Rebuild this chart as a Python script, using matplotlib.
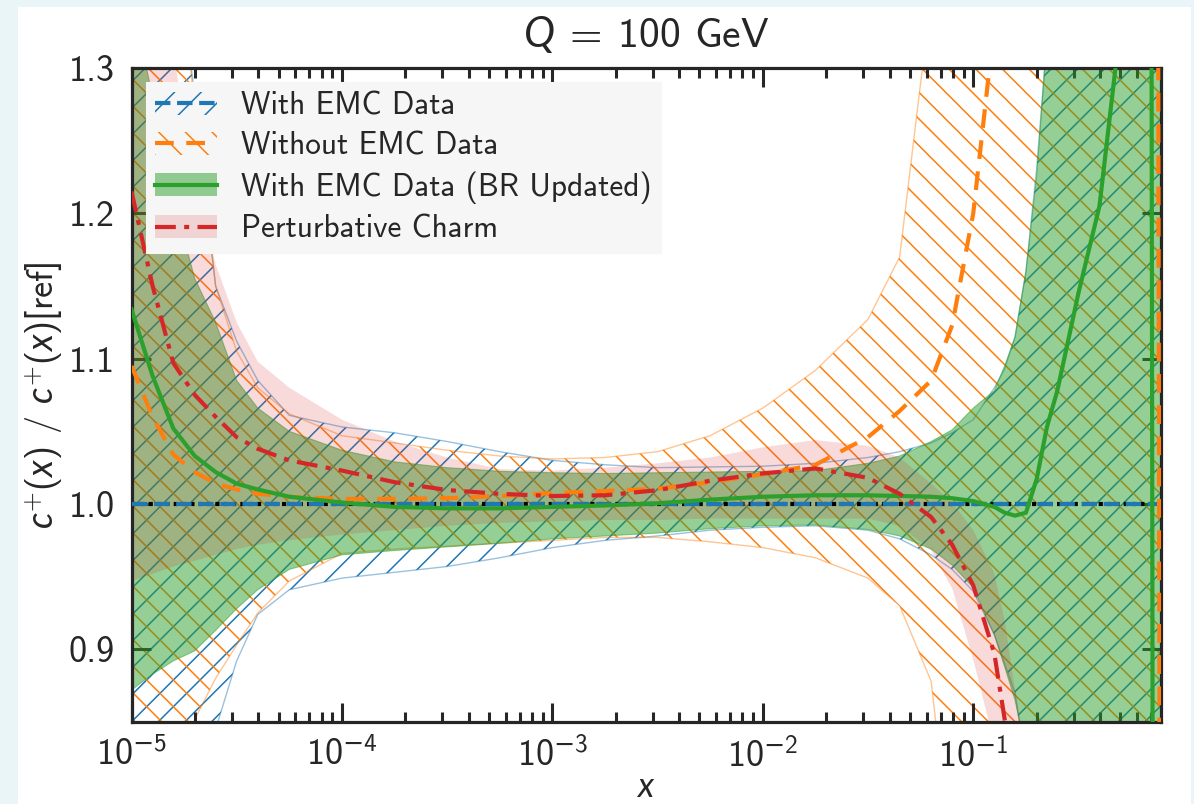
import math
import matplotlib
matplotlib.use("Agg")
import matplotlib.pyplot as plt
from matplotlib.patches import Patch, Rectangle
from matplotlib.lines import Line2D
from matplotlib.ticker import (MultipleLocator, FormatStrFormatter, LogLocator,
                               FuncFormatter)

DPI = 80
S = 100 / DPI  # sizes below are written for 100 dpi and rescaled

plt.rcParams["font.family"] = ["cmss10", "DejaVu Sans"]
plt.rcParams["mathtext.fontset"] = "custom"
plt.rcParams["mathtext.rm"] = "cmss10"
plt.rcParams["mathtext.it"] = "Lato:italic"
plt.rcParams["mathtext.bf"] = "cmss10"
plt.rcParams["mathtext.sf"] = "DejaVu Sans"
plt.rcParams["hatch.linewidth"] = 1.1 * S

# x grid shared by every curve
x = [1.0e-5, 1.26e-5, 1.58e-5, 2.0e-5, 2.51e-5, 3.16e-5, 3.98e-5, 5.62e-5,
     1.0e-4, 1.78e-4, 3.16e-4, 5.62e-4, 1.0e-3, 1.78e-3, 3.16e-3, 5.62e-3,
     1.0e-2, 1.78e-2, 3.16e-2, 4.47e-2, 6.31e-2, 7.94e-2, 0.100, 0.126,
     0.141, 0.158, 0.178, 0.200, 0.224, 0.251, 0.316, 0.398, 0.501, 0.631,
     0.692, 0.716, 0.741, 0.776]

# With EMC Data (reference fit)
emc_c = [1.0] * len(x)
emc_lo = [0.55, 0.64, 0.72, 0.785, 0.845, 0.892, 0.924, 0.941,
          0.949, 0.953, 0.957, 0.963, 0.970, 0.975, 0.978, 0.982,
          0.984, 0.985, 0.982, 0.976, 0.965, 0.955, 0.94, 0.91,
          0.89, 0.87, 0.82, 0.75, 0.65, 0.55, 0.45, 0.4, 0.4, 0.4,
          0.4, 0.4, 0.4, 0.4]
emc_hi = [1.9, 1.6, 1.40, 1.28, 1.15, 1.112, 1.085, 1.061,
          1.053, 1.049, 1.043, 1.036, 1.030, 1.027, 1.025, 1.0255,
          1.026, 1.028, 1.032, 1.036, 1.042, 1.049, 1.058, 1.08,
          1.093, 1.115, 1.16, 1.23, 1.32, 1.42, 1.7, 2.0, 2.0, 2.0,
          2.0, 2.0, 2.0, 2.0]

# Without EMC Data
noemc_c = [1.095, 1.06, 1.034, 1.022, 1.014, 1.010, 1.007, 1.005,
           1.0035, 1.0035, 1.004, 1.0055, 1.0075, 1.009, 1.0105, 1.015,
           1.0205, 1.027, 1.046, 1.064, 1.085, 1.123, 1.20, 1.33,
           1.45, 1.6, 1.8, 2.0, 2.0, 2.0, 2.0, 2.0, 2.0, 2.0,
           2.0, 2.0, 2.0, 0.5]
noemc_lo = [0.5, 0.6, 0.72, 0.852, 0.88, 0.903, 0.925, 0.947,
            0.966, 0.969, 0.971, 0.973, 0.975, 0.977, 0.977, 0.974,
            0.970, 0.963, 0.949, 0.93, 0.878, 0.75, 0.6, 0.5,
            0.5, 0.5, 0.5, 0.5, 0.5, 0.5, 0.5, 0.5, 0.5, 0.5,
            0.5, 0.5, 0.5, 0.5]
noemc_hi = [2.0, 1.65, 1.42, 1.27, 1.15, 1.105, 1.08, 1.062,
            1.047, 1.042, 1.037, 1.033, 1.031, 1.032, 1.036, 1.047,
            1.066, 1.092, 1.127, 1.17, 1.35, 1.6, 2.0, 2.0,
            2.0, 2.0, 2.0, 2.0, 2.0, 2.0, 2.0, 2.0, 2.0, 2.0,
            2.0, 2.0, 2.0, 2.0]

# With EMC Data (BR Updated)
br_c = [1.134, 1.088, 1.052, 1.033, 1.022, 1.014, 1.010, 1.005,
        1.001, 0.998, 0.997, 0.997, 0.998, 0.999, 1.0005, 1.003,
        1.005, 1.006, 1.006, 1.0055, 1.005, 1.004, 1.002, 0.998,
        0.994, 0.992, 0.994, 1.017, 1.053, 1.078, 1.145, 1.205, 1.33, 1.6,
        2.0, 0.6, 0.5, 0.5]
br_lo = [0.872, 0.883, 0.892, 0.899, 0.913, 0.928, 0.941, 0.955,
         0.965, 0.968, 0.9705, 0.973, 0.976, 0.978, 0.980, 0.983,
         0.985, 0.9856, 0.9825, 0.978, 0.969, 0.958, 0.9425, 0.91,
         0.888, 0.865, 0.83, 0.75, 0.65, 0.55, 0.45, 0.4, 0.4, 0.4,
         0.4, 0.4, 0.4, 0.4]
br_hi = [1.35, 1.28, 1.21, 1.155, 1.125, 1.085, 1.066, 1.05,
         1.037, 1.029, 1.025, 1.0225, 1.0215, 1.021, 1.0215, 1.022,
         1.0225, 1.023, 1.028, 1.033, 1.043, 1.051, 1.066, 1.078,
         1.095, 1.115, 1.16, 1.225, 1.32, 1.42, 1.7, 2.0, 2.0, 2.0,
         2.0, 2.0, 2.0, 2.0]

# Perturbative Charm
pch_c = [1.215, 1.15, 1.097, 1.075, 1.06, 1.046, 1.038, 1.030,
         1.023, 1.015, 1.0096, 1.007, 1.0055, 1.006, 1.0095, 1.016,
         1.021, 1.0245, 1.018, 1.007, 0.991, 0.972, 0.944, 0.897,
         0.852, 0.81, 0.76, 0.70, 0.65, 0.6, 0.6, 0.6, 0.6, 0.6,
         0.6, 0.6, 0.6, 0.6]
pch_lo = [0.947, 0.952, 0.957, 0.961, 0.965, 0.969, 0.972, 0.975,
          0.979, 0.982, 0.985, 0.987, 0.988, 0.989, 0.989, 0.990,
          0.990, 0.990, 0.990, 0.985, 0.968, 0.942, 0.893, 0.835,
          0.80, 0.75, 0.70, 0.65, 0.6, 0.55, 0.5, 0.5, 0.5, 0.5,
          0.5, 0.5, 0.5, 0.5]
pch_hi = [1.55, 1.42, 1.31, 1.225, 1.165, 1.125, 1.098, 1.08,
          1.058, 1.043, 1.032, 1.024, 1.023, 1.025, 1.028, 1.032,
          1.039, 1.044, 1.040, 1.032, 1.014, 1.001, 0.982, 0.952,
          0.92, 0.872, 0.83, 0.78, 0.72, 0.65, 0.6, 0.6, 0.6, 0.6,
          0.6, 0.6, 0.6, 0.6]

labels = ["With EMC Data", "Without EMC Data",
          "With EMC Data (BR Updated)", "Perturbative Charm"]

C_BLUE, C_ORANGE, C_GREEN, C_RED = "#1f77b4", "#ff7f0e", "#2ca02c", "#d62728"
INK = "#262626"
LW = 3 * S
RED_DASH = (5, 2, 1.2, 2)
ORANGE_DASH = (4.5, 3)


def decade_label(v, pos):
    e = int(round(math.log10(v)))
    if e < 0:
        return r"$10^{\mathsf{-}%d}$" % (-e)
    return r"$10^{%d}$" % e


fig = plt.figure(figsize=(1194 / DPI, 804 / DPI), dpi=DPI)
fig.patch.set_facecolor("#eaf5f7")
fig.add_artist(Rectangle((18 / 1194, 0), 1173 / 1194, 797 / 804,
                         transform=fig.transFigure, facecolor="white",
                         edgecolor="none", zorder=0))
ax = fig.add_axes([131.5 / 1194, 82 / 804, 1029 / 1194, 654 / 804])

# uncertainty bands
ax.fill_between(x, emc_lo, emc_hi, facecolor="none", edgecolor=C_BLUE,
                hatch="/", linewidth=0, zorder=1)
ax.fill_between(x, noemc_lo, noemc_hi, facecolor="none", edgecolor=C_ORANGE,
                hatch="\\", linewidth=0, zorder=1)
for lo, hi, c in [(emc_lo, emc_hi, C_BLUE), (noemc_lo, noemc_hi, C_ORANGE)]:
    ax.plot(x, lo, color=c, lw=1.0 * S, alpha=0.45, zorder=1.5)
    ax.plot(x, hi, color=c, lw=1.0 * S, alpha=0.45, zorder=1.5)
ax.fill_between(x, br_lo, br_hi, color=C_GREEN, alpha=0.5,
                linewidth=0.8 * S, zorder=2)
ax.fill_between(x, pch_lo, pch_hi, color=C_RED, alpha=0.17, linewidth=0,
                zorder=2.5)

# central values
ax.axhline(1.0, color="black", lw=LW, ls=(0, (1, 1)), zorder=3)
ax.plot(x, emc_c, color=C_BLUE, lw=LW, ls="--", zorder=3.2)
ax.plot(x, noemc_c, color=C_ORANGE, lw=LW, dashes=ORANGE_DASH, zorder=3.4)
ax.plot(x, br_c, color=C_GREEN, lw=LW, zorder=3.6)
ax.plot(x, pch_c, color=C_RED, lw=LW, dashes=RED_DASH, zorder=3.8)

ax.set_xscale("log")
ax.set_xlim(1e-5, 0.776)
ax.set_ylim(0.85, 1.3)
ax.yaxis.set_major_locator(MultipleLocator(0.1))
ax.yaxis.set_major_formatter(FormatStrFormatter("%.1f"))
ax.xaxis.set_major_locator(LogLocator(base=10, numticks=10))
ax.xaxis.set_major_formatter(FuncFormatter(decade_label))
ax.xaxis.set_minor_locator(LogLocator(base=10, subs=range(2, 10), numticks=20))

for side in ax.spines.values():
    side.set_linewidth(2.3 * S)
    side.set_color(INK)
ax.tick_params(which="both", direction="in", top=True, right=True,
               color=INK, labelcolor=INK, width=2.2 * S, labelsize=26 * S)
ax.tick_params(which="major", length=14 * S)
ax.tick_params(which="minor", length=7 * S)
ax.tick_params(axis="y", pad=12 * S)
ax.tick_params(axis="x", pad=11 * S)

ax.set_title(r"$Q\;=\;100$ GeV", fontsize=30 * S, color=INK, pad=15 * S)
ax.set_xlabel(r"$x$", fontsize=25 * S, color=INK, labelpad=0)
ax.set_ylabel(r"$c^{+}(x)$ / $c^{+}(x)$[ref]", fontsize=26 * S,
              color=INK, labelpad=3 * S)

handles = [
    (Patch(facecolor="none", edgecolor=C_BLUE, hatch="/", linewidth=0),
     Line2D([], [], color=C_BLUE, lw=LW, ls="--")),
    (Patch(facecolor="none", edgecolor=C_ORANGE, hatch="\\", linewidth=0),
     Line2D([], [], color=C_ORANGE, lw=LW, dashes=ORANGE_DASH)),
    (Patch(facecolor=C_GREEN, alpha=0.5, linewidth=0),
     Line2D([], [], color=C_GREEN, lw=LW)),
    (Patch(facecolor=C_RED, alpha=0.17, linewidth=0),
     Line2D([], [], color=C_RED, lw=LW, dashes=RED_DASH)),
]
leg = ax.legend(handles, labels, loc="upper left", fontsize=22.5 * S,
                handlelength=2.0, handleheight=0.75, labelspacing=0.35,
                borderpad=0.3, handletextpad=0.75, borderaxespad=0.45,
                fancybox=False, framealpha=1.0, facecolor="#f6f6f6",
                edgecolor="#f6f6f6")
leg.set_zorder(10)
for t in leg.get_texts():
    t.set_color(INK)

fig.savefig("out.png", dpi=DPI, facecolor=fig.get_facecolor())
